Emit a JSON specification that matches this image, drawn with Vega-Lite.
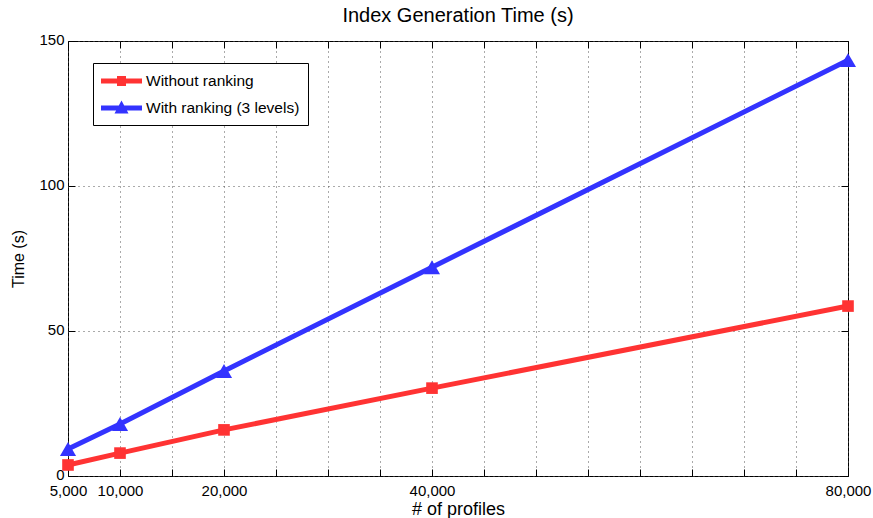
{
  "$schema": "https://vega.github.io/schema/vega-lite/v6.json",
  "width": 780,
  "height": 435,
  "autosize": {"type": "none"},
  "padding": {"left": 68, "top": 41, "right": 25, "bottom": 42},
  "background": "white",
  "title": {"text": "Index Generation Time (s)", "fontSize": 20, "fontWeight": "normal", "font": "Liberation Sans", "color": "black", "offset": 6},
  "config": {
    "font": "Liberation Sans",
    "view": {"stroke": "black", "strokeWidth": 1},
    "axis": {"domain": false, "labelFont": "Liberation Sans", "titleFont": "Liberation Sans", "labelColor": "black", "titleColor": "black", "labelFontSize": 15, "titleFontSize": 16, "titleFontWeight": "normal", "tickColor": "black", "tickSize": -7, "gridColor": "#555", "gridDash": [1, 4], "gridWidth": 1, "gridOpacity": 1}
  },
  "data": {"values": [
    {"profiles": 5000, "series": "Without ranking", "time": 3.8},
    {"profiles": 10000, "series": "Without ranking", "time": 7.9},
    {"profiles": 20000, "series": "Without ranking", "time": 15.9},
    {"profiles": 40000, "series": "Without ranking", "time": 30.3},
    {"profiles": 80000, "series": "Without ranking", "time": 58.6},
    {"profiles": 5000, "series": "With ranking (3 levels)", "time": 9.3},
    {"profiles": 10000, "series": "With ranking (3 levels)", "time": 17.9},
    {"profiles": 20000, "series": "With ranking (3 levels)", "time": 36.2},
    {"profiles": 40000, "series": "With ranking (3 levels)", "time": 72.0},
    {"profiles": 80000, "series": "With ranking (3 levels)", "time": 143.4}
  ]},
  "resolve": {"axis": {"x": "independent", "y": "independent"}},
  "layer": [
    {
      "mark": {"type": "line", "strokeWidth": 5},
      "encoding": {
        "x": {"field": "profiles", "type": "quantitative", "scale": {"domain": [5000, 80000], "nice": false, "zero": false},
          "axis": {"orient": "bottom", "title": "# of profiles", "titleFontSize": 18, "values": [5000, 10000, 15000, 20000, 25000, 30000, 35000, 40000, 45000, 50000, 55000, 60000, 65000, 70000, 75000, 80000], "format": ",d", "labelExpr": "indexof([5000, 10000, 20000, 40000, 80000], datum.value) >= 0 ? datum.label : ''", "labelOverlap": false, "labelBound": false, "labelFlush": false, "labelPadding": 14, "titlePadding": 2, "grid": true}},
        "y": {"field": "time", "type": "quantitative", "scale": {"domain": [0, 150], "nice": false},
          "axis": {"orient": "left", "title": "Time (s)", "values": [0, 50, 100, 150], "labelPadding": 11, "labelOffset": -2, "titlePadding": 12, "grid": true}},
        "color": {"field": "series", "type": "nominal", "scale": {"domain": ["Without ranking", "With ranking (3 levels)"], "range": ["#ff3333", "#3333ff"]},
          "legend": {"title": null, "orient": "none", "legendX": 25, "legendY": 22, "strokeColor": "black", "fillColor": "white", "padding": 8, "cornerRadius": 0, "symbolSize": 400, "labelOffset": 25, "rowPadding": 8, "labelFontSize": 15.5, "labelFont": "Liberation Sans", "labelColor": "black", "labelLimit": 300,
            "encode": {"symbols": {"update": {
              "shape": {"signal": "datum.value === 'Without ranking' ? 'M-1,-0.25H3.1V0.25H-1Z M0.6,-0.5H1.5V0.5H0.6Z' : 'M-1,-0.25H3.1V0.25H-1Z M1.05,-0.75L1.75,0.55H0.35Z'"},
              "fill": {"signal": "datum.value === 'Without ranking' ? '#ff3333' : '#3333ff'"},
              "fillOpacity": {"value": 1},
              "strokeWidth": {"value": 0}
            }}}}}
      }
    },
    {
      "transform": [{"filter": "datum.series === 'Without ranking'"}],
      "mark": {"type": "point", "filled": true, "opacity": 1, "shape": "square", "size": 135},
      "encoding": {
        "x": {"field": "profiles", "type": "quantitative", "axis": null},
        "y": {"field": "time", "type": "quantitative", "axis": null},
        "color": {"field": "series", "type": "nominal"}
      }
    },
    {
      "transform": [{"filter": "datum.series !== 'Without ranking'"}],
      "mark": {"type": "point", "filled": true, "opacity": 1, "shape": "triangle-up", "size": 260},
      "encoding": {
        "x": {"field": "profiles", "type": "quantitative", "axis": null},
        "y": {"field": "time", "type": "quantitative", "axis": null},
        "color": {"field": "series", "type": "nominal"}
      }
    },
    {
      "mark": {"type": "point", "opacity": 0},
      "encoding": {
        "x": {"field": "profiles", "type": "quantitative", "axis": {"orient": "top", "title": null, "labels": false, "grid": false, "values": [5000, 10000, 15000, 20000, 25000, 30000, 35000, 40000, 45000, 50000, 55000, 60000, 65000, 70000, 75000, 80000]}},
        "y": {"field": "time", "type": "quantitative", "axis": {"orient": "right", "title": null, "labels": false, "grid": false, "values": [0, 50, 100, 150]}}
      }
    }
  ]
}
